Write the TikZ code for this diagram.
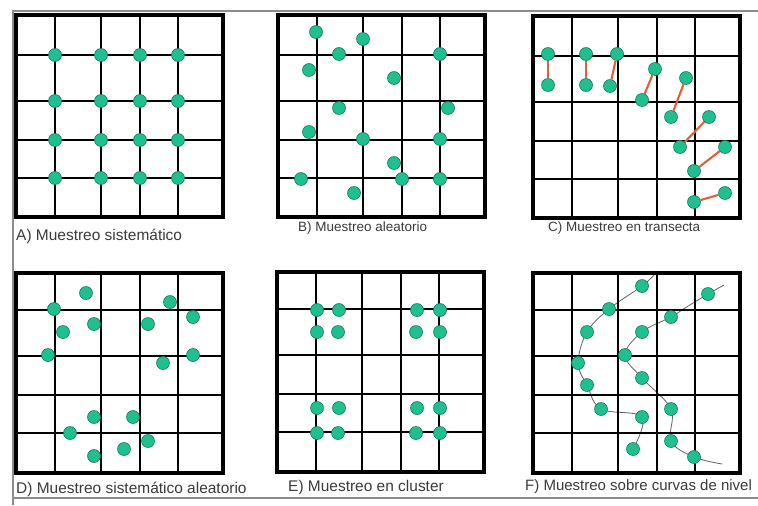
\documentclass[tikz,border=0pt]{standalone}
\usepackage{fontspec}
\setmainfont{Liberation Sans}
\usepackage{xcolor}
\usepackage{tikz}
\usetikzlibrary{backgrounds}
\definecolor{dotgreen}{HTML}{1FBF8F}
\definecolor{dotrim}{HTML}{177A5E}
\definecolor{pairline}{HTML}{E0603A}
\definecolor{captiongray}{HTML}{3A3A3A}
\newcommand{\samplegrid}[4]{% origin x, origin y, horizontal lines, height
  \begin{scope}[shift={(#1,#2)}]
    \foreach \gx in {39,85,124,162} \draw[gridline] (\gx,0) -- (\gx,#4);
    \foreach \gy in {#3} \draw[gridline] (0,\gy) -- (207,\gy);
    \draw[gridborder] (0,0) rectangle (207,#4);
  \end{scope}}

\begin{document}
\begin{tikzpicture}[
    x=0.03cm, y=-0.03cm,
    gridline/.style={line width=2pt, black},
    gridborder/.style={line width=2.7pt, black},
    frameline/.style={line width=1.6pt, black!45},
    dot/.style={circle, fill=dotgreen, draw=dotrim, line width=0.5pt, inner sep=0pt, minimum size=0.39cm},
    pair/.style={pairline, line width=1.8pt},
    contour/.style={black!60, line width=0.7pt, smooth, tension=0.6},
    caption/.style={anchor=west, inner sep=0pt, text=captiongray, font=\fontsize{13.2}{15}\selectfont},
    smallcap/.style={caption, font=\fontsize{11.5}{14}\selectfont}
]
\useasboundingbox (0,0) rectangle (758,505);
% outer frame
\coordinate (ftl) at (13,11);
\coordinate (ftr) at (758,11);
\coordinate (fbl) at (13,505);
\coordinate (fbr) at (758,498);
\draw[frameline] (ftr) -- (ftl) -- (fbl);
\draw[frameline] (fbl |- fbr) -- (fbr);

% the six grids
\samplegrid{16}{15}{40,86,125,163}{202}
\samplegrid{278}{15}{40,86,125,163}{202}
\samplegrid{533}{16}{40,86,125,163}{202}
\samplegrid{16}{273}{37,83,122,160}{200}
\samplegrid{277}{272}{37,83,122,160}{200}
\samplegrid{533}{273}{37,83,122,160}{200}

% A) sistematico
\foreach \i in {39,85,124,162}
  \foreach \j in {40,86,125,163}
    \node[dot] (a-\i-\j) at (16+\i,15+\j) {};

% B) aleatorio
\foreach \px/\py [count=\k] in {316/32, 363/39, 339/54, 440/54, 309/70, 394/78, 339/108, 448/108,
    309/132, 363/139, 440/139, 394/163, 301/179, 402/179, 440/179, 354/193}
  \node[dot] (b\k) at (\px,\py) {};

% C) transecta
\node[dot] (c1t) at (548,54) {};  \node[dot] (c1b) at (548,85) {};
\node[dot] (c2t) at (586,54) {};  \node[dot] (c2b) at (586,85) {};
\node[dot] (c3t) at (617,54) {};  \node[dot] (c3b) at (610,86) {};
\node[dot] (c4t) at (655,69) {};  \node[dot] (c4b) at (642,100) {};
\node[dot] (c5t) at (686,78) {};  \node[dot] (c5b) at (671,117) {};
\node[dot] (c6t) at (709,117) {}; \node[dot] (c6b) at (680,147) {};
\node[dot] (c7t) at (725,147) {}; \node[dot] (c7b) at (694,171) {};
\node[dot] (c8t) at (725,193) {}; \node[dot] (c8b) at (694,202) {};
\foreach \k in {1,...,8}
  \draw[pair] (c\k t) -- (c\k b);

% D) sistematico aleatorio
\foreach \px/\py [count=\k] in {86/293, 54/309, 170/302, 193/317, 94/324, 148/324, 63/332, 48/355,
    193/355, 163/363, 94/417, 133/417, 70/433, 148/441, 124/449, 94/456}
  \node[dot] (d\k) at (\px,\py) {};

% E) cluster
\foreach \px/\py [count=\k] in {317/310, 339/310, 317/332, 338/332, 417/310, 440/310, 416/332, 440/332,
    317/408, 339/408, 317/433, 338/433, 417/408, 440/408, 416/433, 440/433}
  \node[dot] (e\k) at (\px,\py) {};

% F) curvas de nivel
\foreach \px/\py [count=\k] in {642/286, 609/309, 587/332, 578/363, 587/385, 601/409, 642/417, 633/449}
  \node[dot] (f\k) at (\px,\py) {};
\foreach \px/\py [count=\k] in {708/294, 671/317, 642/332, 625/355, 642/378, 671/409, 671/441, 694/457}
  \node[dot] (g\k) at (\px,\py) {};
\coordinate (fstart) at (655,274);
\coordinate (gstart) at (724,285);
\coordinate (gend) at (722,464);
\begin{scope}[on background layer]
  \draw[contour] plot coordinates {(fstart) (f1.center) (f2.center) (f3.center) (f4.center)
      (f5.center) (f6.center) (f7.center) (f8.center)};
  \draw[contour] plot coordinates {(gstart) (g1.center) (685,308) (g2.center) (g3.center) (g4.center)
      (g5.center) (g6.center) (g7.center) (g8.center) (gend)};
\end{scope}

% captions
\node[caption]  (capA) at (16,236)  {A) Muestreo sistemático};
\node[smallcap] (capB) at (298,228) {B) Muestreo aleatorio};
\node[smallcap] (capC) at (548,228) {C) Muestreo en transecta};
\node[caption]  (capD) at (16,489)  {D) Muestreo sistemático aleatorio};
\node[caption]  (capE) at (288,487) {E) Muestreo en cluster};
\node[caption, font=\fontsize{12.8}{15}\selectfont] (capF) at (525,487) {F) Muestreo sobre curvas de nivel};
\end{tikzpicture}
\end{document}
